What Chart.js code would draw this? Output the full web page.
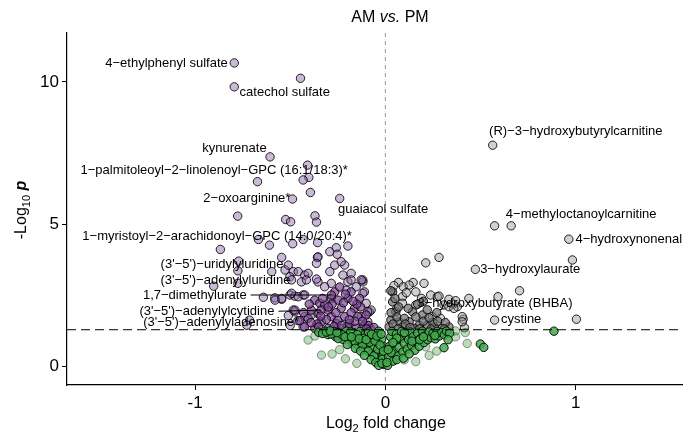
<!DOCTYPE html>
<html>
<head>
<meta charset="utf-8">
<script src="https://cdn.jsdelivr.net/npm/chart.js@4"></script>
<style>
  body { margin: 0; background: #fff; }
  canvas { display: block; }
</style>
</head>
<body>
<canvas id="volcano" width="688" height="434"></canvas>
<script>
// Значения: [log2 fold change, -log10 p]
const xTicks = [-1, 0, 1];
const yTicks = [0, 5, 10];
const pThreshold = 1.301;

const purpleLight = [
  [-0.794, 10.67], [-0.446, 10.13], [-0.794, 9.83], [-0.606, 7.37], [-0.409, 7.08], [-0.402, 6.65],
  [-0.432, 6.56], [-0.672, 6.50], [-0.394, 6.12], [-0.488, 5.89], [-0.240, 5.91],
  [-0.776, 5.29], [-0.524, 5.17], [-0.498, 5.09], [-0.370, 5.30], [-0.362, 5.08],
  [-0.667, 4.47], [-0.609, 4.27], [-0.487, 4.32], [-0.432, 4.47], [-0.356, 4.36], [-0.292, 4.04],
  [-0.258, 4.18], [-0.197, 4.24], [-0.253, 3.95], [-0.357, 3.84], [-0.545, 3.84],
  [-0.867, 4.12], [-0.771, 3.71], [-0.775, 3.37], [-0.902, 2.83], [-0.775, 2.93], [-0.641, 2.44],
  [-0.581, 2.42], [-0.545, 2.37], [-0.501, 2.52], [-0.476, 2.48], [-0.714, 1.64], [-0.728, 1.46],
  [-0.476, 1.93], [-0.527, 3.40], [-0.484, 3.34], [-0.597, 3.34], [-0.510, 3.57], [-0.424, 3.22],
  [-0.354, 3.86], [-0.362, 3.63], [-0.266, 3.57], [-0.214, 3.57], [-0.232, 3.69], [-0.458, 3.34],
  [-0.406, 3.28], [-0.292, 3.34], [-0.223, 3.22], [-0.180, 3.28], [-0.502, 3.16], [-0.441, 2.98],
  [-0.354, 2.98], [-0.284, 2.93], [-0.197, 2.98], [-0.118, 2.98], [-0.153, 2.81], [-0.110, 2.63],
  [-0.493, 2.58], [-0.432, 2.52], [-0.484, 1.99], [-0.101, 2.23], [-0.084, 1.93], [-0.092, 1.58],
  [-0.206, 2.69], [-0.319, 2.81], [-0.180, 3.05], [-0.119, 3.05], [-0.415, 3.05], [-0.362, 3.08],
  [-0.493, 3.05], [-0.458, 2.46], [-0.424, 2.52], [-0.545, 2.40], [-0.580, 2.34], [-0.475, 1.99],
  [-0.423, 1.76], [-0.389, 1.82], [-0.432, 1.40], [-0.075, 1.99], [-0.127, 1.76], [-0.110, 1.46],
  [-0.510, 1.80], [-0.460, 1.62], [-0.500, 1.45], [-0.127, 3.05], [-0.118, 2.58], [-0.093, 1.93]
];

const purpleDark = [
  [-0.371, 2.34], [-0.345, 2.23], [-0.284, 2.40], [-0.249, 2.34], [-0.197, 2.40], [-0.162, 2.05],
  [-0.232, 2.05], [-0.301, 1.99], [-0.354, 1.87], [-0.406, 1.70], [-0.284, 1.76], [-0.214, 1.76],
  [-0.145, 1.76], [-0.336, 1.58], [-0.258, 1.52], [-0.188, 1.52], [-0.119, 1.40], [-0.424, 1.40],
  [-0.371, 1.35], [-0.301, 1.35], [-0.223, 1.35], [-0.153, 1.35], [-0.078, 1.34], [-0.389, 1.99],
  [-0.319, 2.17], [-0.266, 2.63], [-0.180, 2.63], [-0.136, 2.40], [-0.101, 1.82], [-0.284, 2.52],
  [-0.338, 1.99], [-0.450, 1.62], [-0.430, 1.90], [-0.400, 2.20], [-0.280, 2.20], [-0.220, 2.25],
  [-0.180, 1.90], [-0.130, 2.10], [-0.160, 1.60], [-0.250, 1.62], [-0.310, 1.66], [-0.200, 1.42],
  [-0.090, 1.45], [-0.360, 1.50], [-0.330, 2.40], [-0.240, 2.80], [-0.300, 2.10], [-0.210, 2.55],
  [-0.150, 2.20], [-0.260, 1.90], [-0.340, 1.78], [-0.120, 1.60], [-0.390, 1.55], [-0.190, 1.65],
  [-0.270, 1.42], [-0.350, 1.40], [-0.170, 2.30], [-0.230, 1.45], [-0.060, 1.38], [-0.100, 1.33]
];

const greyLight = [
  [0.564, 7.78], [0.574, 4.95], [0.661, 4.95], [0.964, 4.48], [0.983, 3.75], [0.212, 3.65],
  [0.282, 3.84], [0.473, 3.42], [0.705, 2.67], [0.592, 2.46], [0.439, 2.40], [0.574, 1.64],
  [1.004, 1.67], [0.416, 1.37], [0.409, 1.67], [0.378, 2.11], [0.357, 2.20],
  [0.069, 2.96], [0.094, 2.81], [0.146, 2.96], [0.203, 2.93], [0.125, 2.87], [0.090, 2.46],
  [0.090, 2.23], [0.160, 2.63], [0.160, 2.17], [0.238, 2.52], [0.273, 2.46], [0.308, 2.17],
  [0.334, 2.11], [0.360, 2.05], [0.404, 1.76], [0.404, 1.58], [0.247, 1.76], [0.290, 1.70],
  [0.282, 2.48], [0.334, 2.37], [0.369, 2.32], [0.045, 2.85], [0.110, 2.60], [0.190, 2.40],
  [0.060, 2.05]
];

const greyDark = [
  [0.038, 2.63], [0.038, 2.28], [0.055, 1.93], [0.143, 1.93], [0.195, 1.82], [0.029, 1.64],
  [0.073, 1.58], [0.125, 1.58], [0.178, 1.46], [0.221, 1.46], [0.255, 1.40], [0.299, 1.35],
  [0.334, 1.40], [0.020, 1.40], [0.090, 1.40], [0.151, 1.35], [0.060, 1.75], [0.100, 1.70],
  [0.200, 1.60], [0.250, 1.55], [0.120, 2.05], [0.070, 2.10], [0.030, 1.90], [0.170, 2.20],
  [0.220, 2.00], [0.040, 1.50], [0.105, 1.50], [0.270, 1.90], [0.050, 2.40], [0.200, 2.30],
  [0.029, 2.67], [0.160, 1.75], [0.230, 1.72], [0.275, 1.60], [0.315, 1.55], [0.130, 1.38],
  [0.065, 1.33], [0.180, 1.33], [0.240, 1.33], [0.310, 1.33]
];

const greenDark = [
  [-0.350, 1.21], [-0.318, 1.25], [-0.302, 1.13], [-0.270, 1.24], [-0.262, 1.06], [-0.238, 1.18],
  [-0.221, 0.95], [-0.205, 1.25], [-0.196, 1.09], [-0.174, 0.84], [-0.168, 1.20], [-0.155, 1.01],
  [-0.141, 0.72], [-0.133, 1.24], [-0.126, 0.90], [-0.112, 1.11], [-0.104, 0.62], [-0.097, 0.81],
  [-0.088, 1.22], [-0.079, 0.98], [-0.071, 0.47], [-0.066, 0.69], [-0.058, 1.08], [-0.047, 0.33],
  [-0.043, 0.86], [-0.036, 1.25], [-0.031, 0.55], [-0.024, 0.18], [-0.019, 0.97], [-0.012, 0.40],
  [-0.008, 0.08], [-0.005, 0.70], [-0.285, 1.15], [-0.248, 0.99], [-0.226, 1.12], [-0.190, 0.96],
  [-0.183, 1.22], [-0.160, 0.90], [-0.148, 1.13], [-0.120, 0.78], [-0.115, 1.00], [-0.090, 0.55],
  [-0.082, 0.86], [-0.060, 0.38], [-0.054, 0.90], [-0.040, 0.62], [-0.028, 0.76], [-0.016, 0.26],
  [-0.010, 0.55], [-0.330, 1.17], [-0.310, 1.22], [-0.290, 1.26], [-0.255, 1.20], [-0.212, 1.05],
  [-0.178, 1.05], [-0.137, 0.98], [-0.101, 0.95], [-0.072, 1.14], [-0.044, 1.08], [-0.022, 1.15],
  [-0.200, 0.78], [-0.158, 0.65], [-0.130, 0.55], [-0.110, 0.40], [-0.075, 0.25], [-0.050, 0.15],
  [-0.035, 0.05], [-0.018, 0.12],
  [0.012, 0.05], [0.018, 0.35], [0.022, 0.72], [0.028, 1.05], [0.034, 1.24], [0.041, 0.20],
  [0.046, 0.55], [0.052, 0.88], [0.058, 1.15], [0.066, 0.38], [0.072, 0.68], [0.079, 1.00],
  [0.085, 1.24], [0.092, 0.52], [0.100, 0.82], [0.108, 1.12], [0.115, 0.62], [0.122, 0.95],
  [0.130, 1.22], [0.138, 0.75], [0.146, 1.05], [0.155, 0.58], [0.162, 0.88], [0.170, 1.18],
  [0.178, 0.72], [0.186, 1.00], [0.195, 1.25], [0.203, 0.85], [0.212, 1.10], [0.222, 0.95],
  [0.230, 1.22], [0.240, 1.02], [0.250, 1.18], [0.262, 0.98], [0.272, 1.24], [0.283, 1.08],
  [0.295, 1.20], [0.310, 1.12], [0.322, 1.25], [0.338, 1.18], [0.008, 0.15], [0.030, 0.50],
  [0.060, 0.25], [0.095, 0.30], [0.125, 0.45], [0.060, 1.00], [0.100, 1.20], [0.140, 0.90],
  [0.180, 0.95], [0.200, 1.05], [0.260, 1.10], [0.040, 0.85], [0.015, 0.60], [0.308, 0.67],
  [0.499, 0.80], [0.517, 0.68], [0.886, 1.25], [0.330, 0.95]
];

const greenLight = [
  [-0.406, 0.94], [-0.336, 0.41], [-0.280, 0.45], [-0.210, 0.28], [-0.150, 0.12], [-0.370, 1.08],
  [-0.240, 0.60], [0.430, 0.82], [0.369, 1.05], [0.369, 1.26], [0.212, 0.70], [0.160, 0.18],
  [0.099, 0.24], [0.270, 0.55], [0.230, 0.40], [0.420, 1.20]
];

// Подписи: текст, точка привязки текста, выравнивание, точка для линии-выноски
const labelNames = [
  '4−ethylphenyl sulfate', 'catechol sulfate', 'kynurenate',
  '1−palmitoleoyl−2−linolenoyl−GPC (16:1/18:3)*', '2−oxoarginine*', 'guaiacol sulfate',
  '1−myristoyl−2−arachidonoyl−GPC (14:0/20:4)*', "(3'−5')−uridylyluridine", "(3'−5')−adenylyluridine",
  '1,7−dimethylurate', "(3'−5')−adenylylcytidine", "(3'−5')−adenylyladenosine*",
  '(R)−3−hydroxybutyrylcarnitine', '4−methyloctanoylcarnitine', '4−hydroxynonenal',
  '3−hydroxylaurate', '3−hydroxybutyrate (BHBA)', 'cystine'
];
const labelAt = [
  [-0.828, 10.65], [-0.766, 9.65], [-0.624, 7.67],
  [-0.197, 6.91], [-0.499, 5.92], [-0.249, 5.53],
  [-0.176, 4.59], [-0.536, 3.60], [-0.499, 3.04],
  [-0.729, 2.52], [-0.583, 1.95], [-0.453, 1.545],
  [0.545, 8.27], [0.633, 5.36], [0.999, 4.48],
  [0.498, 3.42], [0.169, 2.23], [0.607, 1.67]
];
const labelAlign = ['right', 'left', 'right', 'right', 'right', 'left', 'right', 'right', 'right',
  'right', 'right', 'right', 'left', 'left', 'left', 'left', 'left', 'left'];
const leaders = { 9: [-0.284, 2.52], 10: [-0.338, 1.99] };

const toXY = arr => arr.map(p => ({ x: p[0], y: p[1] }));

function dataset(points, fill, border, order) {
    return {
        data: toXY(points),
        backgroundColor: fill,
        borderColor: border,
        borderWidth: 1,
        pointRadius: 4.2,
        order: order
    };
}

// Пунктирные линии, подписи и заголовки
const annotate = {
    id: 'annotate',
    beforeDatasetsDraw(chart) {
        const { ctx, chartArea, scales } = chart;
        const x0 = scales.x.getPixelForValue(0);
        ctx.save();
        ctx.strokeStyle = '#999';
        ctx.lineWidth = 1;
        ctx.setLineDash([4, 4]);
        ctx.beginPath();
        ctx.moveTo(x0, chartArea.top);
        ctx.lineTo(x0, chartArea.bottom);
        ctx.stroke();
        ctx.restore();
    },
    afterDatasetsDraw(chart) {
        const { ctx, chartArea, scales } = chart;
        const yT = scales.y.getPixelForValue(pThreshold);
        ctx.save();
        ctx.strokeStyle = '#000';
        ctx.lineWidth = 1;
        ctx.setLineDash([9, 5]);
        ctx.beginPath();
        ctx.moveTo(chartArea.left, yT);
        ctx.lineTo(chartArea.right, yT);
        ctx.stroke();
        ctx.setLineDash([]);

        ctx.font = '13px "Liberation Sans", Arial, sans-serif';
        ctx.fillStyle = '#000';
        ctx.textBaseline = 'middle';
        labelNames.forEach((name, i) => {
            const px = scales.x.getPixelForValue(labelAt[i][0]);
            const py = scales.y.getPixelForValue(labelAt[i][1]);
            ctx.textAlign = labelAlign[i];
            ctx.fillText(name, px, py);
            if (leaders[i]) {
                const lx = scales.x.getPixelForValue(leaders[i][0]);
                const ly = scales.y.getPixelForValue(leaders[i][1]);
                ctx.beginPath();
                ctx.moveTo(px + 4, py);
                ctx.lineTo(lx, ly);
                ctx.lineWidth = 1;
                ctx.stroke();
            }
        });
        ctx.restore();
    },
    afterDraw(chart) {
        const { ctx, chartArea } = chart;
        const base = '"Liberation Sans", Arial, sans-serif';
        ctx.save();
        ctx.fillStyle = '#000';
        ctx.textBaseline = 'middle';
        ctx.textAlign = 'left';

        // Заголовок
        const parts = [['AM ', '16px ' + base], ['vs.', 'italic 16px ' + base], [' PM', '16px ' + base]];
        let w = 0;
        parts.forEach(p => { ctx.font = p[1]; w += ctx.measureText(p[0]).width; });
        let cx = 390 - w / 2;
        parts.forEach(p => { ctx.font = p[1]; ctx.fillText(p[0], cx, 18); cx += ctx.measureText(p[0]).width; });

        // Подпись оси X
        const xParts = [['Log', '16px ' + base, 0], ['2', '11px ' + base, 5], [' fold change', '16px ' + base, 0]];
        w = 0;
        xParts.forEach(p => { ctx.font = p[1]; w += ctx.measureText(p[0]).width; });
        cx = (chartArea.left + chartArea.right) / 2 + 11 - w / 2;
        xParts.forEach(p => { ctx.font = p[1]; ctx.fillText(p[0], cx, 424 + p[2]); cx += ctx.measureText(p[0]).width; });

        // Подпись оси Y
        ctx.translate(22, 210);
        ctx.rotate(-Math.PI / 2);
        const yParts = [['-Log', '16px ' + base, 0], ['10', '11px ' + base, 5], [' ', '16px ' + base, 0], ['p', 'bold italic 16px ' + base, 0]];
        w = 0;
        yParts.forEach(p => { ctx.font = p[1]; w += ctx.measureText(p[0]).width; });
        cx = -w / 2;
        yParts.forEach(p => { ctx.font = p[1]; ctx.fillText(p[0], cx, p[2]); cx += ctx.measureText(p[0]).width; });
        ctx.restore();
    }
};

const axisFont = { family: '"Liberation Sans", Arial, sans-serif', size: 17 };

new Chart(document.getElementById('volcano').getContext('2d'), {
    type: 'scatter',
    data: {
        datasets: [
            dataset(greenDark, 'rgba(65,170,75,0.85)', 'rgba(0,0,0,0.9)', 0),
            dataset(greenLight, 'rgba(80,170,80,0.4)', 'rgba(0,0,0,0.4)', 1),
            dataset(purpleDark, 'rgba(125,70,150,0.7)', 'rgba(0,0,0,0.9)', 2),
            dataset(greyDark, 'rgba(110,110,110,0.7)', 'rgba(0,0,0,0.9)', 3),
            dataset(purpleLight, 'rgba(140,100,170,0.45)', 'rgba(0,0,0,0.85)', 4),
            dataset(greyLight, 'rgba(150,150,150,0.45)', 'rgba(0,0,0,0.85)', 5)
        ]
    },
    options: {
        responsive: false,
        devicePixelRatio: 1,
        animation: false,
        layout: { padding: { top: 33, right: 1, left: 0, bottom: 0 } },
        plugins: { legend: { display: false }, tooltip: { enabled: false } },
        scales: {
            x: {
                type: 'linear',
                min: -1.673,
                max: 1.563,
                afterBuildTicks: s => { s.ticks = xTicks.map(v => ({ value: v })); },
                afterFit: s => { s.height = 49; },
                grid: { drawOnChartArea: false, color: '#000', tickLength: 5 },
                border: { color: '#000', width: 1.2 },
                ticks: { color: '#000', font: axisFont, padding: 3 }
            },
            y: {
                type: 'linear',
                min: -0.64,
                max: 11.72,
                afterBuildTicks: s => { s.ticks = yTicks.map(v => ({ value: v })); },
                afterFit: s => { s.width = 67; },
                grid: { drawOnChartArea: false, color: '#000', tickLength: 5 },
                border: { color: '#000', width: 1.2 },
                ticks: { color: '#000', font: axisFont, padding: 3 }
            }
        }
    },
    plugins: [annotate]
});
</script>
</body>
</html>
